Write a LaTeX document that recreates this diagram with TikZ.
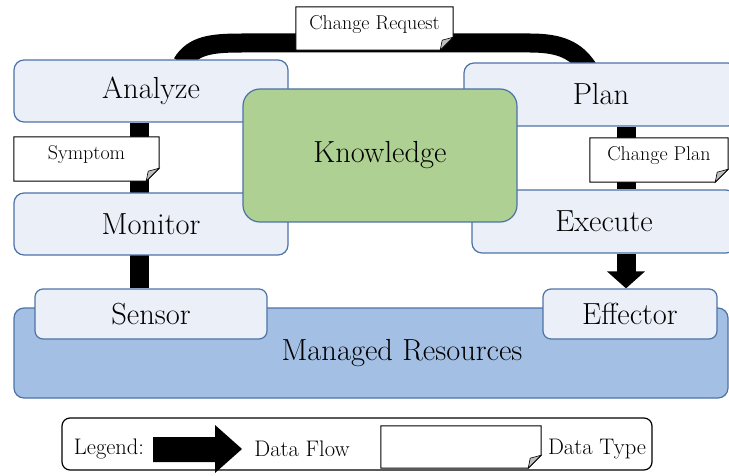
\documentclass[tikz,border=0pt]{standalone}
\usetikzlibrary{arrows.meta}
\definecolor{boxfill}{HTML}{EAEFF8}
\definecolor{boxline}{HTML}{4E72A6}
\definecolor{kfill}{HTML}{AED092}
\definecolor{mrfill}{HTML}{A3C0E4}
\definecolor{foldgray}{HTML}{BFBFBF}
\pgfdeclarelayer{flowlayer}
\pgfsetlayers{flowlayer,main}
\newcommand{\notefold}[1]{%
  \filldraw[fill=white, draw=black, line width=1pt]
    (#1.north west) -- (#1.north east) -- ([yshift=13pt]#1.south east)
    -- ([xshift=-13pt]#1.south east) -- (#1.south west) -- cycle;
  \filldraw[fill=foldgray, draw=black, line width=0.6pt]
    ([yshift=13pt]#1.south east) -- ([xshift=-13pt]#1.south east)
    -- ([xshift=-11pt,yshift=10pt]#1.south east) -- cycle;
}
\begin{document}
\begin{tikzpicture}[x=1pt,y=-1pt,
  comp/.style={draw=boxline, fill=boxfill, line width=1.2pt, rounded corners=10pt,
    minimum width=274pt, minimum height=62pt, inner sep=0pt,
    font=\fontsize{30.5}{36}\selectfont},
  know/.style={comp, fill=kfill, rounded corners=17pt, minimum height=133pt},
  small/.style={comp, rounded corners=8pt, minimum height=50pt},
  mrbox/.style={comp, fill=mrfill, minimum width=714pt, minimum height=90pt},
  notebox/.style={draw=none, fill=none, inner sep=0pt},
  notetext/.style={inner sep=0pt, font=\fontsize{20}{24}\selectfont},
  legtext/.style={inner sep=0pt, font=\fontsize{22.5}{27}\selectfont},
  flow/.style={line width=19pt, draw=black},
]
\useasboundingbox (0,0) rectangle (729,476);

% component boxes
\node[comp] (ana) at (151,91) {Analyze};
\node[comp] (mon) at (151,224) {Monitor};
\node[comp, minimum height=63pt] (pla) at (601,94.5) {Plan};
\node[comp, minimum height=63pt, minimum width=264pt] (exe) at (604,221.5) {Execute};
\node[know] (kno) at (380,155.5) {Knowledge};
\node[mrbox] (mr) at (371,353) {\hspace*{62pt}Managed Resources};
\node[small, minimum width=232pt] (sen) at (151,314) {Sensor};
\node[small, minimum width=174pt] (eff) at (630,314) {Effector};

% data flows (behind the boxes)
\begin{pgfonlayer}{flowlayer}
  \draw[flow] ([xshift=-12pt]sen.north) -- ([xshift=-12pt]ana.south);
  \draw[flow] ([xshift=31pt,yshift=-4pt]ana.north) .. controls (193,45) and (212,43) .. (242,43)
    -- (530,43) .. controls (560,43) and (576,50) .. ([xshift=-13pt,yshift=-6pt]pla.north);
  \draw[flow] ([xshift=25pt]pla.south) -- ([xshift=22pt]exe.north);
  \draw[flow, -{Triangle[width=37pt,length=17pt]}] ([xshift=22pt]exe.south) -- ([xshift=-4pt]eff.north);
\end{pgfonlayer}

% data type notes
\node[notebox, minimum width=157pt, minimum height=43pt] (cr) at (374.5,28.5) {};
\notefold{cr}
\node[notetext] (crt) at ([yshift=4pt]cr.center) {Change Request};
\node[notebox, minimum width=145pt, minimum height=44pt] (sym) at (86.5,159) {};
\notefold{sym}
\node[notetext] (symt) at ([yshift=4pt]sym.center) {Symptom};
\node[notebox, minimum width=138pt, minimum height=44pt] (cp) at (659,160) {};
\notefold{cp}
\node[notetext] (cpt) at ([yshift=4pt]cp.center) {Change Plan};

% legend
\node[draw=black, line width=1.2pt, rounded corners=8pt, minimum width=590pt,
  minimum height=52pt, inner sep=0pt] (leg) at (357,444) {};
\node[legtext] (legl) at (109,449) {Legend:};
\fill[black] (153,437) -- (215,437) -- (215,425) -- (242,449) -- (215,473)
  -- (215,462) -- (153,462) -- cycle;
\node[legtext] (df) at (302,449) {Data Flow};
\node[notebox, minimum width=160pt, minimum height=42pt] (dt) at (461,447) {};
\notefold{dt}
\node[legtext] (dtt) at (597,449) {Data Type};
\end{tikzpicture}
\end{document}
